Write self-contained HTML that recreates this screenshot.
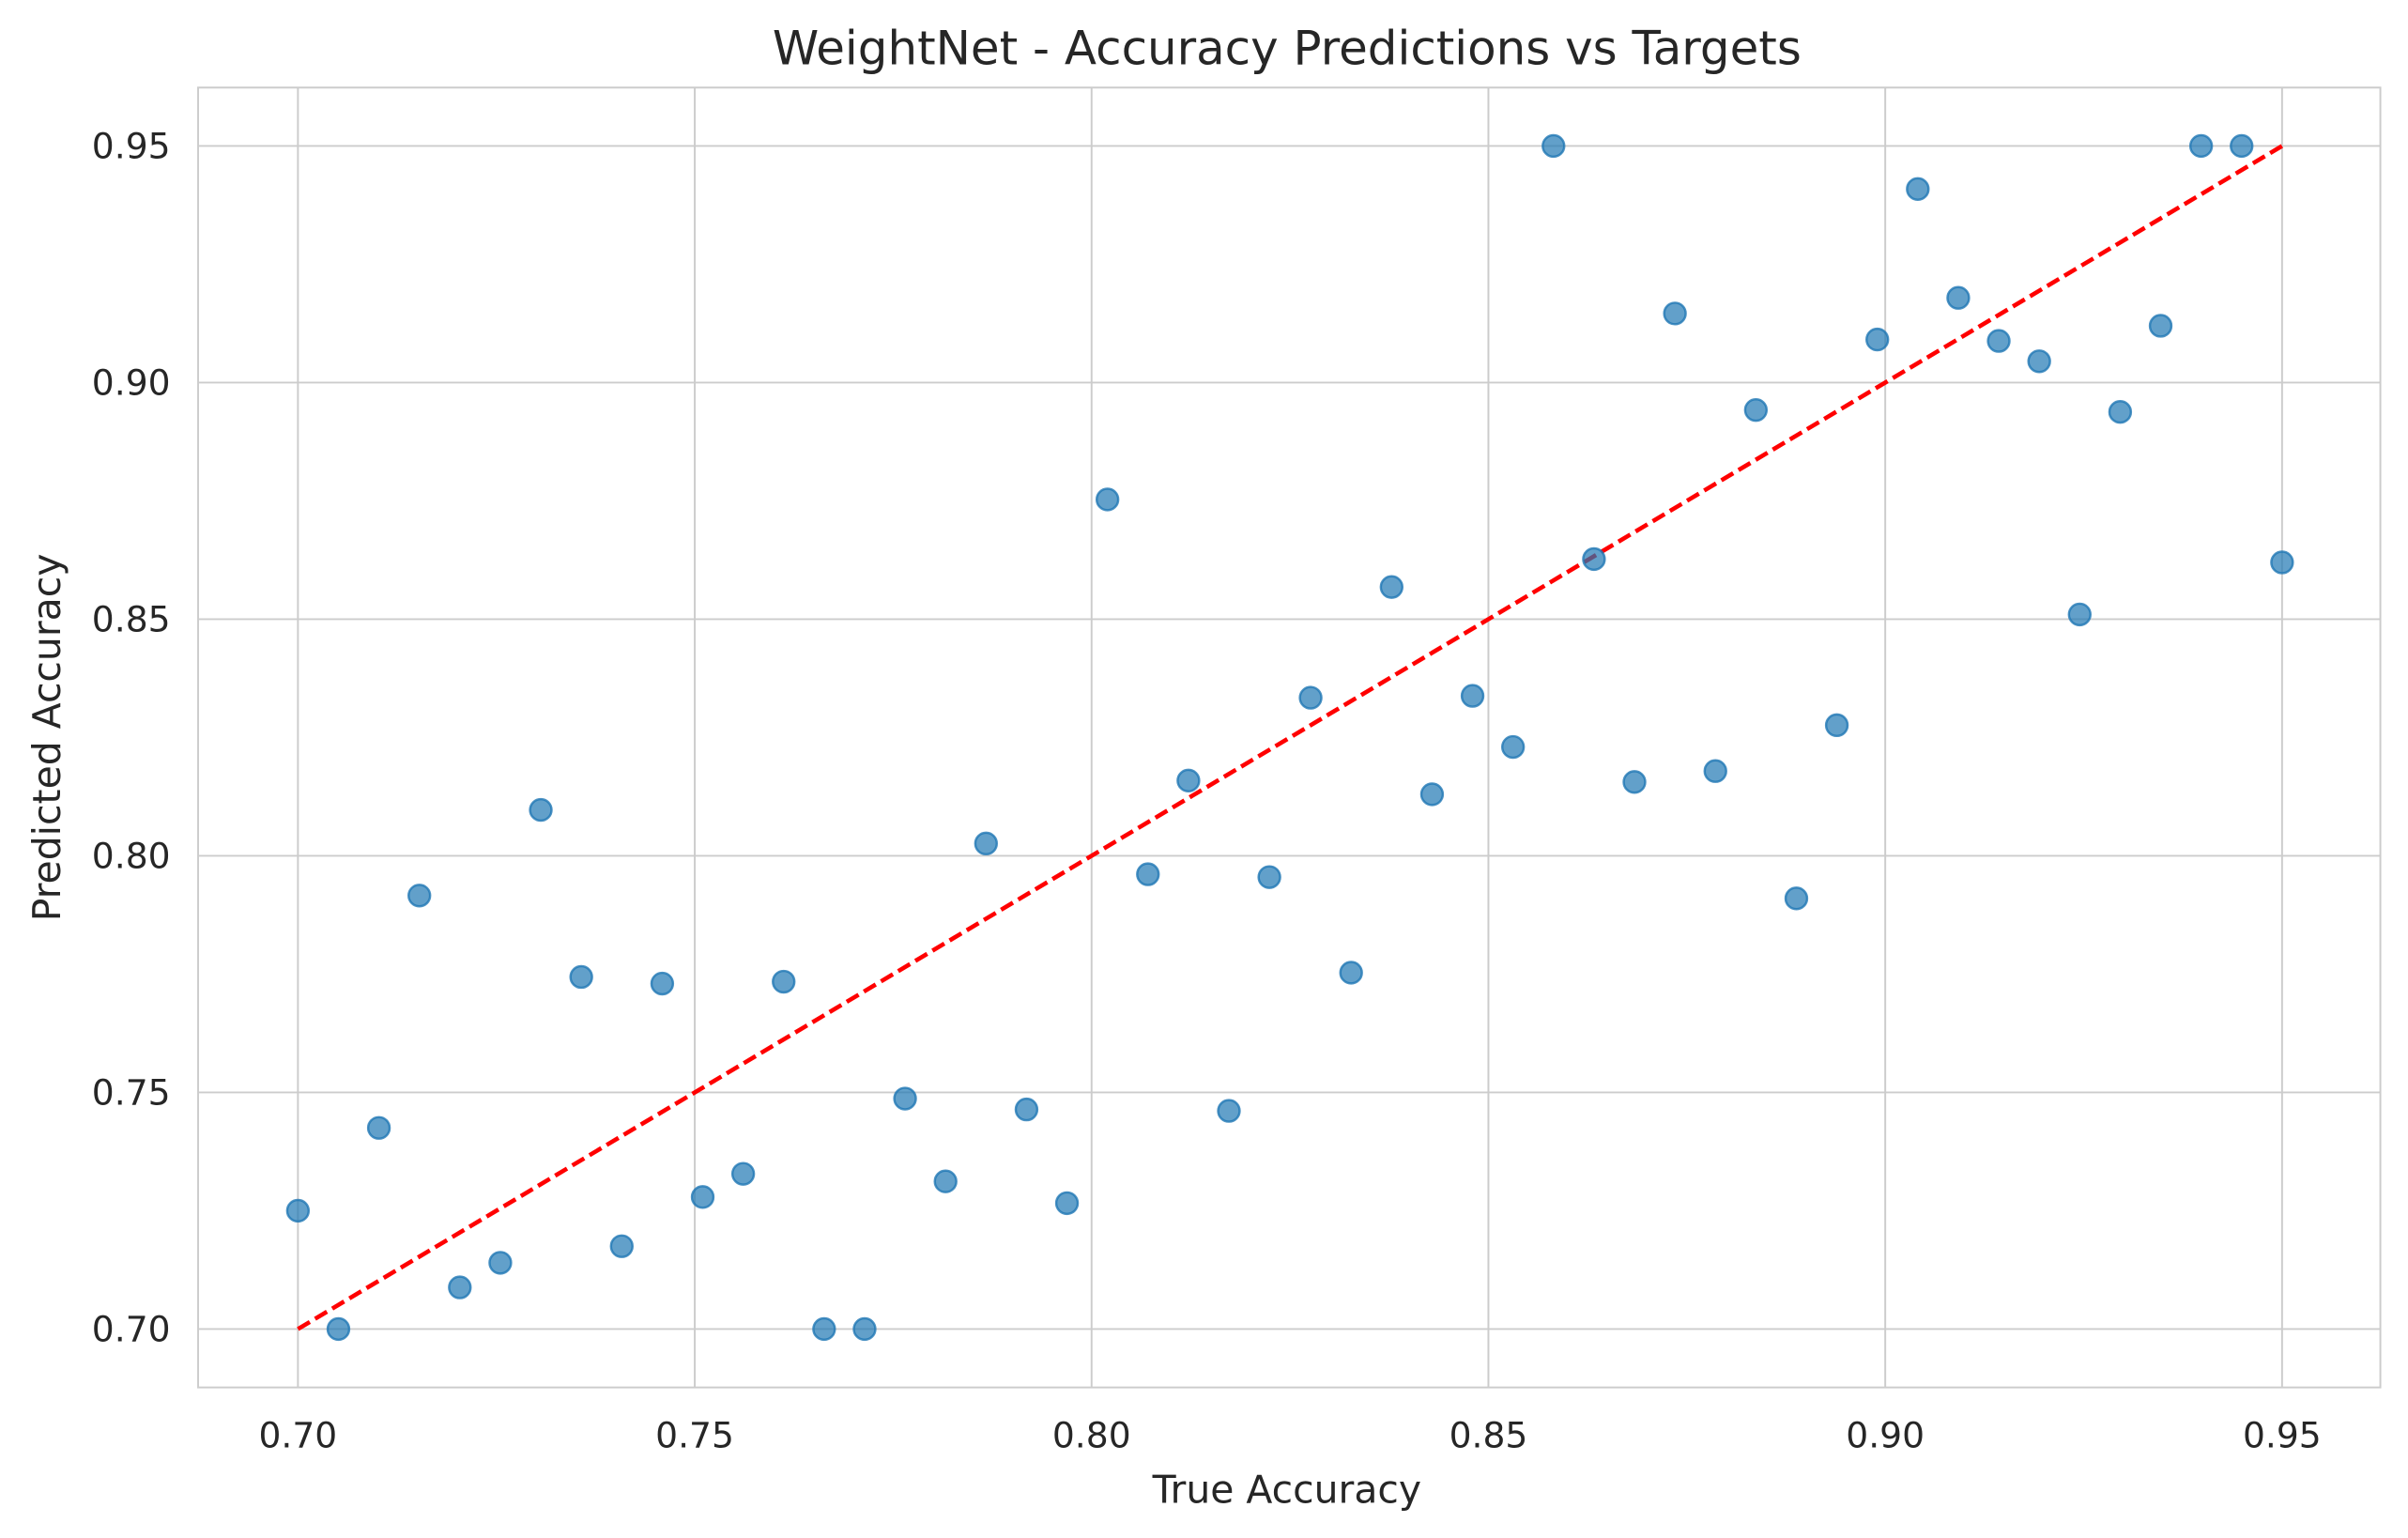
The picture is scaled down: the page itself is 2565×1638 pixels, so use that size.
<!DOCTYPE html>
<html><head><meta charset="utf-8"><style>
html,body{margin:0;padding:0;background:#fff;}
svg{display:block;font-family:"DejaVu Sans","Liberation Sans",sans-serif;}
</style></head><body>
<svg id="chart" width="2565" height="1638" viewBox="0 0 1568 1001" preserveAspectRatio="none" xmlns="http://www.w3.org/2000/svg">
<rect x="0" y="0" width="1568" height="1001" fill="#fff"/>
<g id="grid"></g>
<rect x="129" y="57" width="1421" height="846" fill="none" stroke="#cccccc" stroke-width="1.2"/>
<g id="ticks"></g>
<line id="ideal" stroke="#ff0000" stroke-width="2.8" stroke-dasharray="9,4"/>
<g id="points"></g>
<text x="838" y="42" text-anchor="middle" font-size="30.5" fill="#262626">WeightNet - Accuracy Predictions vs Targets</text>
<text x="838" y="978" text-anchor="middle" font-size="25" fill="#262626">True Accuracy</text>
<text transform="translate(39,480) rotate(-90)" text-anchor="middle" font-size="25" fill="#262626">Predicted Accuracy</text>
</svg>
<script>
const xTicks = [0.70, 0.75, 0.80, 0.85, 0.90, 0.95];
const yTicks = [0.70, 0.75, 0.80, 0.85, 0.90, 0.95];
const tickLabels = ["0.70","0.75","0.80","0.85","0.90","0.95"];
const trueAcc = [0.7000,0.7051,0.7102,0.7153,0.7204,0.7255,0.7306,0.7357,0.7408,0.7459,0.7510,0.7561,0.7612,0.7663,0.7714,0.7765,0.7816,0.7867,0.7918,0.7969,0.8020,0.8071,0.8122,0.8173,0.8224,0.8276,0.8327,0.8378,0.8429,0.8480,0.8531,0.8582,0.8633,0.8684,0.8735,0.8786,0.8837,0.8888,0.8939,0.8990,0.9041,0.9092,0.9143,0.9194,0.9245,0.9296,0.9347,0.9398,0.9449,0.9500];
const predAcc = [0.725,0.700,0.7425,0.7916,0.7088,0.714,0.8097,0.7744,0.7175,0.773,0.7279,0.7328,0.7734,0.700,0.700,0.7487,0.7312,0.8026,0.7464,0.7266,0.8753,0.7961,0.8159,0.7461,0.7955,0.8334,0.7753,0.8568,0.813,0.8338,0.823,0.950,0.8627,0.8156,0.9146,0.8179,0.8942,0.791,0.8276,0.9091,0.9409,0.9179,0.9088,0.9045,0.851,0.8938,0.912,0.950,0.950,0.862];
const idealRange = [0.70, 0.95];

const NS = "http://www.w3.org/2000/svg";
const X = v => 194 + (v - 0.70) * 5168;
const Y = v => 865 - (v - 0.70) * 3080;

const grid = document.getElementById('grid');
const ticks = document.getElementById('ticks');
xTicks.forEach((t, i) => {
  const l = document.createElementNS(NS, 'line');
  
  
  l.setAttribute('x1', X(t)); l.setAttribute('x2', X(t));
  l.setAttribute('y1', 57); l.setAttribute('y2', 903);
  l.setAttribute('stroke', '#cccccc'); l.setAttribute('stroke-width', '1.2');
  grid.appendChild(l);
  const tx = document.createElementNS(NS, 'text');
  
  
  tx.setAttribute('x', X(t)); tx.setAttribute('y', 942);
  tx.setAttribute('text-anchor', 'middle'); tx.setAttribute('font-size', '23');
  tx.setAttribute('fill', '#262626');
  tx.textContent = tickLabels[i];
  ticks.appendChild(tx);
});
yTicks.forEach((t, i) => {
  const l = document.createElementNS(NS, 'line');
  
  
  l.setAttribute('x1', 129); l.setAttribute('x2', 1550);
  l.setAttribute('y1', Y(t)); l.setAttribute('y2', Y(t));
  l.setAttribute('stroke', '#cccccc'); l.setAttribute('stroke-width', '1.2');
  grid.appendChild(l);
  const tx = document.createElementNS(NS, 'text');
  
  
  tx.setAttribute('x', 111); tx.setAttribute('y', Y(t) + 8);
  tx.setAttribute('text-anchor', 'end'); tx.setAttribute('font-size', '23');
  tx.setAttribute('fill', '#262626');
  tx.textContent = tickLabels[i];
  ticks.appendChild(tx);
});
const ideal = document.getElementById('ideal');
ideal.setAttribute('x1', X(idealRange[0])); ideal.setAttribute('y1', Y(idealRange[0]));
ideal.setAttribute('x2', X(idealRange[1])); ideal.setAttribute('y2', Y(idealRange[1]));
const pts = document.getElementById('points');
trueAcc.forEach((v, i) => {
  const c = document.createElementNS(NS, 'circle');
  
  
  c.setAttribute('cx', X(v)); c.setAttribute('cy', Y(predAcc[i]));
  c.setAttribute('r', 7);
  c.setAttribute('fill', '#1f77b4'); c.setAttribute('fill-opacity', '0.7');
  c.setAttribute('stroke', '#1f77b4'); c.setAttribute('stroke-opacity', '0.8');
  c.setAttribute('stroke-width', '1.5');
  pts.appendChild(c);
});
</script>
</body></html>
